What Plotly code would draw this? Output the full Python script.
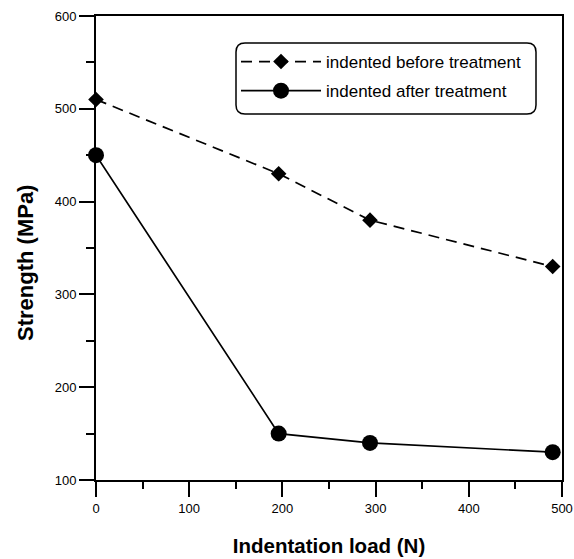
import plotly.graph_objects as go

# Indentation load (N) and fracture strength (MPa)
load_n = [0, 196, 294, 490]
strength_before = [510, 430, 380, 330]
strength_after = [450, 150, 140, 130]

series_names = ["indented before treatment", "indented after treatment"]

x_ticks = [0, 100, 200, 300, 400, 500]
y_ticks = [100, 200, 300, 400, 500, 600]

FONT = "Liberation Sans, Arial, Helvetica, sans-serif"
W, H = 574, 559
ML, MR, MT, MB = 96, 12, 16, 79

fig = go.Figure()

fig.add_trace(go.Scatter(
    x=load_n, y=strength_before, name=series_names[0], legendgroup="before",
    mode="lines+markers",
    line=dict(color="black", width=1.7, dash="11px,7px"),
    marker=dict(symbol="diamond", size=12, color="black"),
    cliponaxis=False,
))
fig.add_trace(go.Scatter(
    x=load_n, y=strength_after, name=series_names[1], legendgroup="after",
    mode="lines+markers",
    line=dict(color="black", width=1.7),
    marker=dict(symbol="circle", size=16, color="black"),
    cliponaxis=False,
))

axis_common = dict(
    showline=True, linecolor="black", linewidth=2, mirror=True,
    ticks="outside", ticklen=15, tickwidth=2, tickcolor="black",
    showgrid=False, zeroline=False, automargin=False,
    tickfont=dict(family=FONT, size=13, color="black"),
)

fig.update_xaxes(
    range=[0, 500], tickvals=x_ticks,
    title=dict(text="<b>Indentation load (N)</b>", standoff=24,
               font=dict(family=FONT, size=20.5, color="black")),
    minor=dict(ticks="outside", ticklen=7, tickwidth=2, tickcolor="black", dtick=50, showgrid=False),
    **axis_common,
)
fig.update_yaxes(
    range=[100, 600], tickvals=y_ticks,
    minor=dict(ticks="outside", ticklen=8, tickwidth=2, tickcolor="black", dtick=50, showgrid=False),
    **axis_common,
)

pw, ph = W - ML - MR, H - MT - MB


def px_to_paper(px, py):
    return (px - ML) / pw, 1 - (py - MT) / ph


# Vertical axis title
tx, ty = px_to_paper(25, 263)
fig.add_annotation(
    text="<b>Strength (MPa)</b>", textangle=-90, showarrow=False,
    xref="paper", yref="paper", x=tx, y=ty, xanchor="center", yanchor="middle",
    font=dict(family=FONT, size=22, color="black"),
)

# Rounded frame around the legend, given in pixels and converted to paper units
x0, y0, x1, y1, r = 236, 43, 536, 114, 9
pts = [(x0 + r, y0), (x1 - r, y0), (x1, y0), (x1, y0 + r), (x1, y1 - r), (x1, y1),
       (x1 - r, y1), (x0 + r, y1), (x0, y1), (x0, y1 - r), (x0, y0 + r), (x0, y0)]
p = [px_to_paper(a, b) for a, b in pts]
frame_path = (f"M{p[0][0]},{p[0][1]} L{p[1][0]},{p[1][1]} Q{p[2][0]},{p[2][1]} {p[3][0]},{p[3][1]} "
              f"L{p[4][0]},{p[4][1]} Q{p[5][0]},{p[5][1]} {p[6][0]},{p[6][1]} L{p[7][0]},{p[7][1]} "
              f"Q{p[8][0]},{p[8][1]} {p[9][0]},{p[9][1]} L{p[10][0]},{p[10][1]} "
              f"Q{p[11][0]},{p[11][1]} {p[0][0]},{p[0][1]} Z")
fig.add_shape(type="path", xref="paper", yref="paper", layer="above",
              path=frame_path, line=dict(color="black", width=1.5))

lx, ly = px_to_paper(236, 44)

fig.update_layout(
    template="none",
    width=W, height=H,
    margin=dict(l=ML, r=MR, t=MT, b=MB, autoexpand=False),
    paper_bgcolor="white", plot_bgcolor="white",
    showlegend=True,
    legend=dict(
        x=lx, y=ly, xanchor="left", yanchor="top",
        bgcolor="rgba(0,0,0,0)", borderwidth=0,
        font=dict(family=FONT, size=17, color="black"),
        itemwidth=80, tracegroupgap=4,
    ),
)

fig.write_html("out.html")
